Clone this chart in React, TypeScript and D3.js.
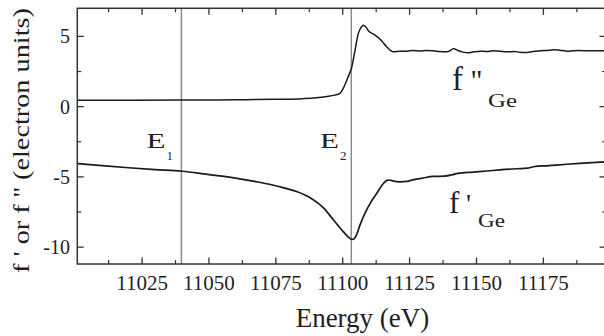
import React from "react";
import * as d3 from "d3";

// f'' (imaginary part) — energy (eV) and value (electron units)
const fppEnergy = [11001, 11020, 11040, 11060, 11075, 11085, 11090, 11094, 11097, 11099, 11100.2, 11102, 11103.4, 11104.6, 11105.8, 11107.1, 11107.7, 11108.5, 11109.6, 11112.1, 11114.6, 11116.4, 11118.9, 11121.4, 11123.9, 11126.4, 11129, 11131, 11134, 11136, 11139, 11141.5, 11143, 11145, 11147, 11149, 11151.5, 11154, 11156, 11159, 11161, 11164, 11166, 11169, 11171, 11174, 11176, 11179, 11181, 11184, 11186, 11188, 11192, 11198.4];
const fppValue = [0.45, 0.46, 0.47, 0.49, 0.52, 0.57, 0.63, 0.72, 0.82, 0.95, 1.3, 2.1, 2.83, 4.0, 5.2, 5.7, 5.8, 5.7, 5.4, 5.09, 4.68, 4.26, 3.9, 3.95, 3.95, 4.0, 3.96, 4.0, 3.97, 3.93, 3.9, 4.12, 4.0, 3.88, 3.83, 3.9, 3.95, 3.92, 3.98, 3.95, 3.9, 3.92, 3.88, 3.86, 3.92, 3.97, 4.0, 4.05, 4.02, 3.95, 3.98, 4.0, 3.97, 3.97];

// f' (real part)
const fpEnergy = [11001, 11010, 11020, 11030, 11040, 11048, 11055, 11061, 11067, 11073, 11078, 11083, 11088, 11092.8, 11096.5, 11100.2, 11102.2, 11103.4, 11104.3, 11105.2, 11106.4, 11108.3, 11110.2, 11112.7, 11115.2, 11116.5, 11117.5, 11119, 11121.4, 11124, 11126.5, 11130, 11133.8, 11138, 11141, 11143, 11148.8, 11154, 11158.8, 11165, 11169, 11171.3, 11177, 11183.8, 11190, 11198.4];
const fpValue = [-4.05, -4.2, -4.35, -4.48, -4.6, -4.78, -4.95, -5.12, -5.32, -5.54, -5.78, -6.06, -6.5, -7.2, -8.05, -8.9, -9.3, -9.45, -9.4, -9.1, -8.45, -7.6, -6.9, -6.18, -5.47, -5.25, -5.22, -5.3, -5.35, -5.32, -5.2, -5.08, -4.97, -4.95, -4.85, -4.75, -4.66, -4.58, -4.5, -4.42, -4.38, -4.28, -4.2, -4.1, -4.02, -3.92];

// marker energies
const markerEnergy = [11039.7, 11103.2];
const markerLabel = ["1", "2"];

const xMajorTicks = [11025, 11050, 11075, 11100, 11125, 11150, 11175];
const xMinorTicks = [11012.5, 11037.5, 11062.5, 11087.5, 11112.5, 11137.5, 11162.5, 11187.5];
const yMajorTicks = [5, 0, -5, -10];
const yMinorTicks = [2.5, -2.5, -7.5];

const W = 604;
const H = 336;
const L = 77.3, R = 606, T = 8.3, B = 264;

export default function App() {
  const x = d3.scaleLinear().domain([11000.8, 11198.4]).range([L, R]);
  const y = d3.scaleLinear().domain([-11.2, 7]).range([B, T]);

  const line = d3
    .line<[number, number]>()
    .x((d) => x(d[0]))
    .y((d) => y(d[1]))
    .curve(d3.curveMonotoneX);

  const fpp = line(fppEnergy.map((e, i) => [e, fppValue[i]] as [number, number])) || "";
  const fp = line(fpEnergy.map((e, i) => [e, fpValue[i]] as [number, number])) || "";

  const textColor = "#1e1e1e";
  const frame = "#333";
  const ts = { fontFamily: "Liberation Serif" };

  return (
    <svg
      width={W}
      height={H}
      style={{ position: "absolute", left: 0, top: 0, background: "#fff" }}
    >
      <defs>
        <clipPath id="plot">
          <rect x={L} y={T} width={R - L} height={B - T} />
        </clipPath>
      </defs>
      <rect x={0} y={0} width={W} height={H} fill="#fff" />

      {markerEnergy.map((e, i) => (
        <line key={"m" + i} x1={x(e)} x2={x(e)} y1={T} y2={B} stroke="#8c8c8c" strokeWidth={1.5} />
      ))}

      <g clipPath="url(#plot)">
        <path d={fpp} fill="none" stroke="#1a1a1a" strokeWidth={1.5} />
        <path d={fp} fill="none" stroke="#1a1a1a" strokeWidth={1.7} />
      </g>

      <rect x={L} y={T} width={R - L} height={B - T} fill="none" stroke={frame} strokeWidth={1.5} />

      {xMajorTicks.map((t) => (
        <g key={"xM" + t}>
          <line x1={x(t)} x2={x(t)} y1={B} y2={B - 6.5} stroke={frame} strokeWidth={1.3} />
          <line x1={x(t)} x2={x(t)} y1={T} y2={T + 6.5} stroke={frame} strokeWidth={1.3} />
          <text x={x(t)} y={290} textAnchor="middle" fontSize={21} fill={textColor} style={ts}>
            {t}
          </text>
        </g>
      ))}
      {xMinorTicks.map((t) => (
        <g key={"xm" + t}>
          <line x1={x(t)} x2={x(t)} y1={B} y2={B - 4} stroke={frame} strokeWidth={1.2} />
          <line x1={x(t)} x2={x(t)} y1={T} y2={T + 4} stroke={frame} strokeWidth={1.2} />
        </g>
      ))}

      {yMajorTicks.map((t) => (
        <g key={"yM" + t}>
          <line x1={L} x2={L + 6.5} y1={y(t)} y2={y(t)} stroke={frame} strokeWidth={1.3} />
          <line x1={R} x2={R - 6.5} y1={y(t)} y2={y(t)} stroke={frame} strokeWidth={1.3} />
          <text x={70} y={y(t) + 7} textAnchor="end" fontSize={20} fill={textColor} style={ts}>
            {t}
          </text>
        </g>
      ))}
      {yMinorTicks.map((t) => (
        <g key={"ym" + t}>
          <line x1={L} x2={L + 4} y1={y(t)} y2={y(t)} stroke={frame} strokeWidth={1.2} />
          <line x1={R} x2={R - 4} y1={y(t)} y2={y(t)} stroke={frame} strokeWidth={1.2} />
        </g>
      ))}

      {markerEnergy.map((e, i) => {
        const ex = i === 0 ? 146.5 : 320;
        return (
          <g key={"ml" + i} fill={textColor}>
            <text x={ex} y={148} fontSize={22} textLength={19} lengthAdjust="spacingAndGlyphs" style={ts}>
              E
            </text>
            <text x={ex + 20} y={160} fontSize={13} style={ts}>
              {markerLabel[i]}
            </text>
          </g>
        );
      })}

      <g fill={textColor}>
        <text x={452} y={90} fontSize={33} style={ts}>f</text>
        <text x={471} y={90} fontSize={30} style={ts}>''</text>
        <text x={488} y={107} fontSize={18} textLength={29} lengthAdjust="spacingAndGlyphs" style={ts}>Ge</text>

        <text x={449} y={213} fontSize={31} style={ts}>f</text>
        <text x={466} y={213} fontSize={28} style={ts}>'</text>
        <text x={478} y={227} fontSize={18} textLength={27} lengthAdjust="spacingAndGlyphs" style={ts}>Ge</text>
      </g>

      <text x={362.5} y={327} textAnchor="middle" fontSize={27} fill={textColor} style={ts}>
        Energy (eV)
      </text>
      <text
        transform={`translate(29, 140.5) rotate(-90)`}
        textAnchor="middle"
        fontSize={24}
        fill={textColor}
        textLength={265}
        lengthAdjust="spacingAndGlyphs"
        style={ts}
      >
        f ' or f '' (electron units)
      </text>
    </svg>
  );
}
